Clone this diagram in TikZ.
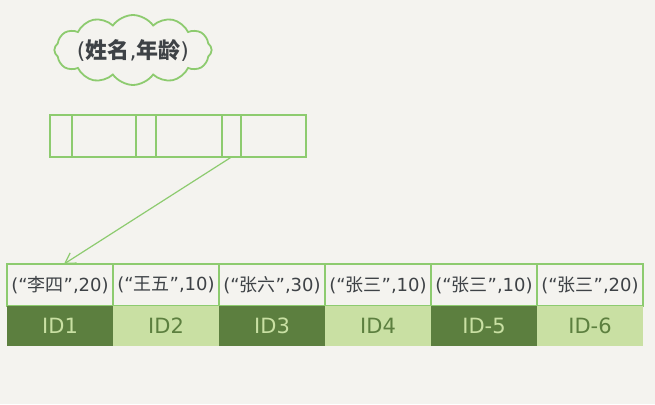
\documentclass[tikz,border=0pt]{standalone}
\usepackage{fontspec}
\setmainfont{DejaVu Sans}
\newfontfamily\cjk{Noto Sans CJK SC}
\usetikzlibrary{arrows.meta,positioning,shapes.symbols}
\definecolor{paper}{HTML}{F4F3EF}
\definecolor{linegreen}{HTML}{8DCB6F}
\definecolor{darkfill}{HTML}{5C7F3F}
\definecolor{lightfill}{HTML}{C9E0A3}
\definecolor{ink}{HTML}{3E4246}

\begin{document}
\begin{tikzpicture}[x=1pt, y=-1pt,
        rowcell/.style={draw=linegreen, line width=1.2pt, fill=paper, minimum width=106pt, minimum height=42pt, inner sep=0pt, outer sep=0pt, text=ink, font=\fontsize{18}{18}\selectfont},
        idbox/.style={minimum width=106pt, minimum height=40pt, inner sep=0pt, outer sep=0pt, font=\fontsize{21}{21}\selectfont},
        iddark/.style={idbox, fill=darkfill, text=lightfill},
        idlight/.style={idbox, fill=lightfill, text=darkfill},
        keycell/.style={draw=linegreen, line width=1.2pt, minimum height=42pt, inner sep=0pt, outer sep=0pt},
        arrow/.style={-{Straight Barb[length=10pt,width=12pt]}, linegreen, line width=1.2pt}
    ]
    \fill[paper] (0,0) rectangle (655,404);
    \useasboundingbox (0,0) rectangle (655,404);
    % index name
    \node[cloud, cloud puffs=12, cloud puff arc=110, cloud ignores aspect, draw=linegreen, line width=1.8pt, inner xsep=-1pt, inner ysep=7pt, text=ink, font=\fontsize{22}{22}\selectfont] (idxname) at (133,50) {({\cjk\bfseries 姓名},{\cjk\bfseries 年龄})};
    % index page
    \node[keycell, minimum width=22pt, anchor=north west] (p1) at (50,115) {};
    \node[keycell, minimum width=64pt, right=0pt of p1] (k1) {};
    \node[keycell, minimum width=20pt, right=0pt of k1] (p2) {};
    \node[keycell, minimum width=66pt, right=0pt of p2] (k2) {};
    \node[keycell, minimum width=19pt, right=0pt of k2] (p3) {};
    \node[keycell, minimum width=65pt, right=0pt of p3] (k3) {};
    % leaf rows
    \node[rowcell, anchor=north west] (r1) at (7,264) {(“{\cjk 李四}”,20)};
    \node[rowcell, right=0pt of r1] (r2) {(“{\cjk 王五}”,10)};
    \node[rowcell, right=0pt of r2] (r3) {(“{\cjk 张六}”,30)};
    \node[rowcell, right=0pt of r3] (r4) {(“{\cjk 张三}”,10)};
    \node[rowcell, right=0pt of r4] (r5) {(“{\cjk 张三}”,10)};
    \node[rowcell, right=0pt of r5] (r6) {(“{\cjk 张三}”,20)};
    % ids
    \node[iddark, below=0pt of r1] (id1) {ID1};
    \node[idlight, below=0pt of r2] (id2) {ID2};
    \node[iddark, below=0pt of r3] (id3) {ID3};
    \node[idlight, below=0pt of r4] (id4) {ID4};
    \node[iddark, below=0pt of r5] (id5) {ID-5};
    \node[idlight, below=0pt of r6] (id6) {ID-6};
    % pointer
    \draw[arrow] (p3.south) -- ([xshift=4pt]r1.north);
\end{tikzpicture}
\end{document}
